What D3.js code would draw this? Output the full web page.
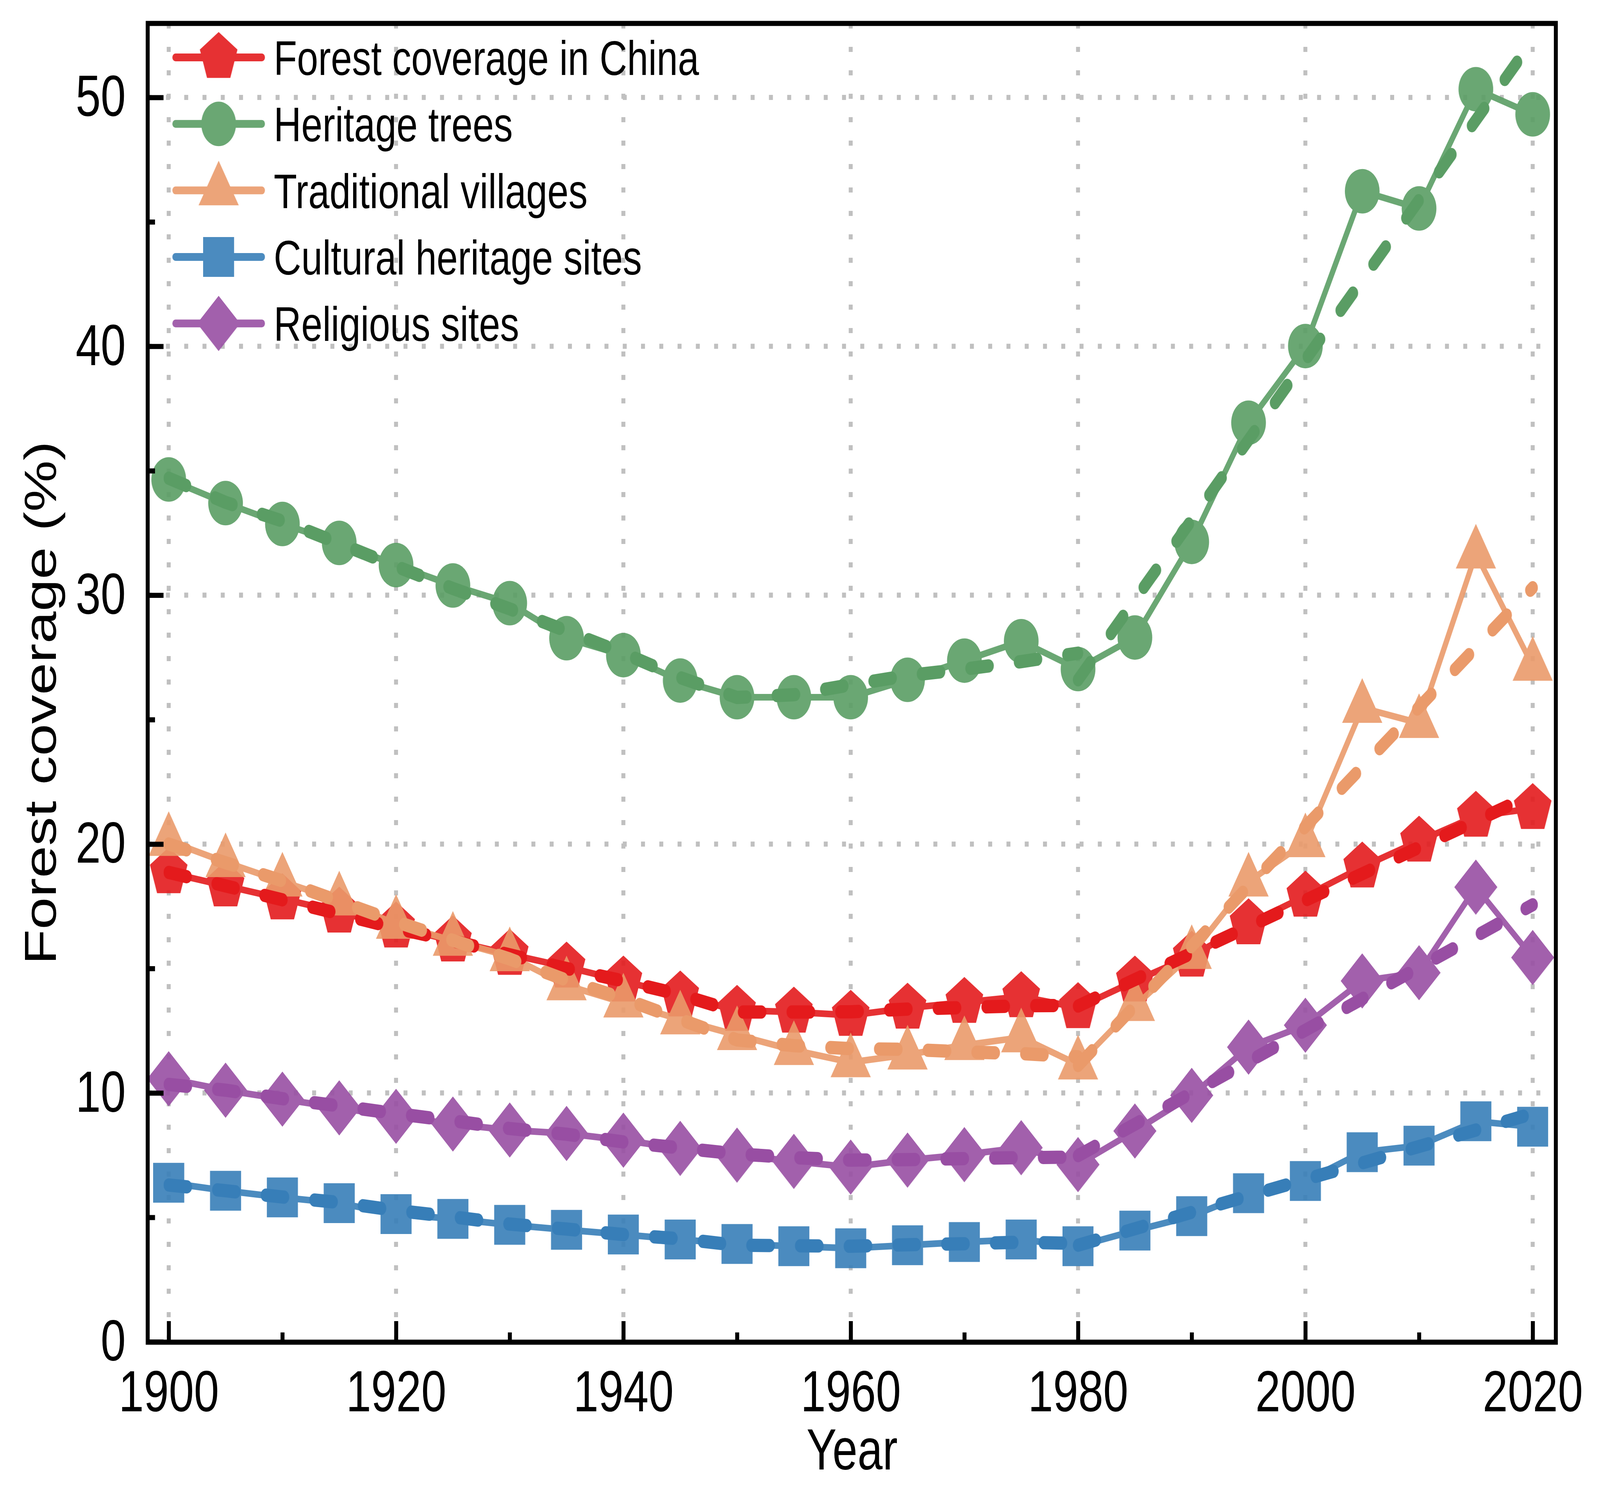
<!DOCTYPE html>
<html>
<head>
<meta charset="utf-8">
<script src="https://cdn.jsdelivr.net/npm/d3@7"></script>
<style>
	html,body{margin:0;padding:0;background:#fff;overflow:hidden;}
	#chart{display:block;width:100vw;height:100vh;}
	svg text{font-family:Arial,"Liberation Sans",sans-serif;fill:#000;}
</style>
</head>
<body>
<svg id="chart" viewBox="0 0 5254 3836" preserveAspectRatio="none"></svg>
<script>
/*data*/
var years=[1900,1905,1910,1915,1920,1925,1930,1935,1940,1945,1950,1955,1960,1965,1970,1975,1980,1985,1990,1995,2000,2005,2010,2015,2020];
var forestChina=[18.85,18.32,17.80,17.27,16.67,16.11,15.57,15.06,14.50,13.90,13.32,13.25,13.12,13.41,13.64,13.87,13.43,14.50,15.50,16.80,17.91,19.08,20.12,21.12,21.43];
var heritageTrees=[34.65,33.70,32.86,32.10,31.21,30.39,29.68,28.27,27.59,26.57,25.90,25.90,25.90,26.60,27.37,28.15,27.03,28.30,32.14,36.93,40.01,46.23,45.54,50.33,49.32];
var villages=[20.12,19.27,18.49,17.73,16.79,16.11,15.49,14.32,13.63,12.95,12.32,11.72,11.23,11.54,11.92,12.23,11.14,13.49,15.58,18.49,20.07,25.47,24.86,31.67,27.16];
var culturalSites=[6.39,6.07,5.80,5.57,5.13,4.94,4.70,4.50,4.31,4.11,3.93,3.84,3.76,3.88,4.01,4.11,3.84,4.47,5.05,5.97,6.46,7.62,7.88,8.86,8.64];
var religiousSites=[10.57,10.11,9.75,9.40,9.06,8.75,8.51,8.37,8.10,7.77,7.50,7.25,7.02,7.30,7.52,7.80,7.12,8.47,9.90,11.84,12.72,14.50,14.83,18.27,15.44];

/*fit 1900-1980*/
var fitYears1=[1900,1905,1910,1915,1920,1925,1930,1935,1940,1945,1950,1955,1960,1965,1970,1975,1980];
var forestFit1=[18.86,18.32,17.76,17.20,16.62,16.11,15.55,15.00,14.50,13.95,13.25,13.25,13.26,13.37,13.43,13.50,13.52];
var treesFit1=[34.70,33.73,32.98,32.08,31.16,30.27,29.45,28.56,27.67,26.69,25.89,26.00,26.40,26.77,27.03,27.33,27.67];
var villagesFit1=[20.00,19.25,18.52,17.70,16.88,16.13,15.38,14.53,13.79,12.95,12.13,11.90,11.78,11.75,11.65,11.58,11.45];
var culturalFit1=[6.30,6.07,5.82,5.60,5.28,5.02,4.73,4.53,4.31,4.14,3.88,3.86,3.84,3.90,3.94,4.00,3.95];
var religiousFit1=[10.34,10.11,9.77,9.48,9.17,8.88,8.57,8.34,8.03,7.79,7.55,7.40,7.30,7.32,7.36,7.40,7.42];

/*fit 1980-2020 (straight)*/
var fitYears2=[1980,2020];
var forestFit2=[13.49,21.99];
var treesFit2=[26.60,52.30];
var villagesFit2=[11.10,30.30];
var culturalFit2=[3.88,9.17];
var religiousFit2=[7.48,17.56];

var seriesNames=["Forest coverage in China","Heritage trees","Traditional villages","Cultural heritage sites","Religious sites"];
var seriesColors=["#e41a1c","#5a9d64","#ea9a6a","#377eb8","#984ea3"];
var seriesShapes=["pentagon","circle","triangle","square","diamond"];

var xTicks=[1900,1920,1940,1960,1980,2000,2020];
var xMinorTicks=[1910,1930,1950,1970,1990,2010];
var yTicks=[0,10,20,30,40,50];
var yMinorTicks=[5,15,25,35,45];
var yGrid=[10,20,30,40,50];

var values=[forestChina,heritageTrees,villages,culturalSites,religiousSites];
var fits1=[forestFit1,treesFit1,villagesFit1,culturalFit1,religiousFit1];
var fits2=[forestFit2,treesFit2,villagesFit2,culturalFit2,religiousFit2];

var svg=d3.select("#chart");
var frame={left:485,right:5109,top:60,bottom:3437};
var x=d3.scaleLinear().domain([1900,2020]).range([554,5033]);
var y=d3.scaleLinear().domain([0,50]).range([3436,249.5]);

/*marker path*/
function markerPath(shape){
	if(shape=="pentagon"){
		var p=d3.path(),r=65;
		for(var i=0;i<5;i++){
			var a=-Math.PI/2+i*2*Math.PI/5;
			if(i==0){p.moveTo(r*Math.cos(a),r*Math.sin(a));}else{p.lineTo(r*Math.cos(a),r*Math.sin(a));}
		}
		p.closePath();
		return p.toString();
	}
	if(shape=="circle"){return d3.symbol().type(d3.symbolCircle).size(10200)();}
	if(shape=="triangle"){return d3.symbol().type(d3.symbolTriangle).size(7545)();}
	if(shape=="square"){return d3.symbol().type(d3.symbolSquare).size(10404)();}
	return d3.symbol().type(d3.symbolSquare).size(10000)();
}
function markerTransform(shape,px,py){
	return "translate("+px+","+py+")"+(shape=="diamond"?" rotate(45)":"");
}

/*grid*/
var grid=svg.append("g").attr("class","grid");
grid.selectAll(".vgrid").data(xTicks).enter().append("line").attr("class","vgrid")
	.attr("x1",function(d){return x(d);}).attr("x2",function(d){return x(d);})
	.attr("y1",frame.top).attr("y2",frame.bottom);
grid.selectAll(".hgrid").data(yGrid).enter().append("line").attr("class","hgrid")
	.attr("x1",frame.left).attr("x2",frame.right)
	.attr("y1",function(d){return y(d);}).attr("y2",function(d){return y(d);});
grid.selectAll("line").attr("stroke","#c0c0c0").attr("stroke-width",13).attr("stroke-dasharray","13,47");

/*series*/
var line=d3.line().x(function(d){return x(d[0]);}).y(function(d){return y(d[1]);});
var seriesLayer=svg.append("g").attr("class","series");
values.forEach(function(vals,i){
	var pts=years.map(function(yr,j){return [yr,vals[j]];});
	var g=seriesLayer.append("g").attr("opacity",0.9);
	g.append("path").attr("d",line(pts)).attr("fill","none").attr("stroke",seriesColors[i])
		.attr("stroke-width",17).attr("stroke-linejoin","round").attr("stroke-linecap","round");
	g.selectAll(".mk").data(pts).enter().append("path").attr("class","mk")
		.attr("d",markerPath(seriesShapes[i]))
		.attr("transform",function(d){return markerTransform(seriesShapes[i],x(d[0]),y(d[1]));})
		.attr("fill",seriesColors[i]);
});

/*fit lines*/
var fitLayer=svg.append("g").attr("class","fits");
fits1.forEach(function(vals,i){
	var p1=fitYears1.map(function(yr,j){return [yr,vals[j]];});
	var p2=fitYears2.map(function(yr,j){return [yr,fits2[i][j]];});
	[p1,p2].forEach(function(pts){
		fitLayer.append("path").attr("d",line(pts)).attr("fill","none").attr("stroke",seriesColors[i])
			.attr("stroke-width",34).attr("stroke-linecap","round").attr("stroke-linejoin","round")
			.attr("stroke-dasharray","60,100");
	});
});

/*axes*/
svg.append("g").attr("transform","translate(0,"+frame.bottom+")")
	.call(d3.axisBottom(x).tickValues(xTicks).tickFormat(d3.format("d")).tickSize(-54).tickSizeOuter(0).tickPadding(72));
svg.append("g").attr("transform","translate(0,"+frame.bottom+")")
	.call(d3.axisBottom(x).tickValues(xMinorTicks).tickFormat("").tickSize(-25).tickSizeOuter(0));
svg.append("g").attr("transform","translate("+frame.left+",0)")
	.call(d3.axisLeft(y).tickValues(yTicks).tickSize(-52).tickSizeOuter(0).tickPadding(72));
svg.append("g").attr("transform","translate("+frame.left+",0)")
	.call(d3.axisLeft(y).tickValues(yMinorTicks).tickFormat("").tickSize(-24).tickSizeOuter(0));
svg.selectAll(".domain").remove();
svg.selectAll(".tick line").attr("stroke","#000").attr("stroke-width",13);
svg.selectAll(".tick text").attr("font-size",148).attr("font-family","Arial, 'Liberation Sans', sans-serif").attr("fill","#000");

svg.append("rect").attr("x",frame.left).attr("y",frame.top)
	.attr("width",frame.right-frame.left).attr("height",frame.bottom-frame.top)
	.attr("fill","none").attr("stroke","#000").attr("stroke-width",13);

svg.append("text").attr("x",2798).attr("y",3763).attr("text-anchor","middle").attr("font-size",148).text("Year");
svg.append("text").attr("transform","translate(183,1800) rotate(-90)").attr("text-anchor","middle")
	.attr("font-size",148).text("Forest coverage (%)");

/*legend*/
var legend=svg.append("g").attr("class","legend");
seriesNames.forEach(function(name,i){
	var ly=147+i*170.3;
	var g=legend.append("g").attr("opacity",0.9);
	g.append("line").attr("x1",576).attr("x2",860).attr("y1",ly).attr("y2",ly)
		.attr("stroke",seriesColors[i]).attr("stroke-width",20).attr("stroke-linecap","round");
	g.append("path").attr("d",markerPath(seriesShapes[i])).attr("transform",markerTransform(seriesShapes[i],718,ly))
		.attr("fill",seriesColors[i]);
	legend.append("text").attr("x",899).attr("y",ly+45).attr("font-size",125).text(name);
});
</script>
</body>
</html>
